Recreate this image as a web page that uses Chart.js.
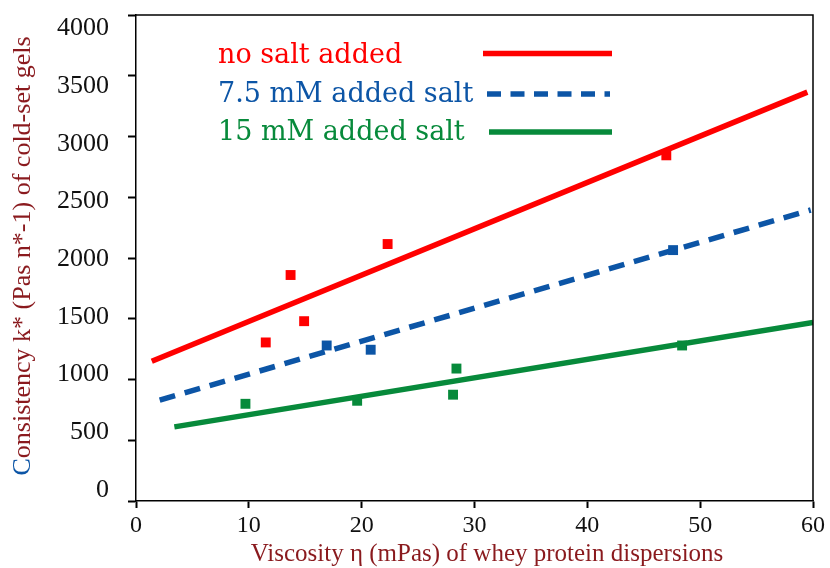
<!DOCTYPE html>
<html>
<head>
<meta charset="utf-8">
<script src="https://cdn.jsdelivr.net/npm/chart.js@4/dist/chart.umd.min.js"></script>
<style>
  html, body { margin: 0; padding: 0; background: #ffffff; }
  #wrap { width: 830px; height: 568px; }
</style>
</head>
<body>
<div id="wrap"><canvas id="c" width="830" height="568"></canvas></div>
<script>
// Series names and colours
const seriesNames = ['no salt added', '7.5 mM added salt', '15 mM added salt'];
const seriesColors = ['#ff0000', '#0c55a6', '#078a3b'];

// Measured gels: viscosity (mPas) vs consistency k*
const noSaltX = [11.5, 13.7, 14.9, 22.3, 47.0];
const noSaltY = [1305, 1860, 1480, 2115, 2845];
const salt75X = [16.9, 20.8, 47.6];
const salt75Y = [1280, 1245, 2065];
const salt15X = [9.7, 19.6, 28.1, 28.4, 48.4];
const salt15Y = [800, 825, 875, 1090, 1280];

// Trend lines (end points)
const noSaltFitX = [1.4, 59.5];
const noSaltFitY = [1150, 3365];
const salt75FitX = [2.1, 59.8];
const salt75FitY = [830, 2395];
const salt15FitX = [3.4, 60.0];
const salt15FitY = [610, 1470];

// Axis ticks
const xTicks = [0, 10, 20, 30, 40, 50, 60];
const yTicks = [0, 500, 1000, 1500, 2000, 2500, 3000, 3500, 4000];

const xTitle = 'Viscosity \u03b7 (mPas) of whey protein dispersions';
const yTitle = 'Consistency k* (Pas n*-1) of cold-set gels';
const titleColor = '#8a1a1e';
const titleAccent = '#0c55a6';

const pts = (xs, ys) => xs.map((x, i) => ({ x: x, y: ys[i] }));

const measured = [pts(noSaltX, noSaltY), pts(salt75X, salt75Y), pts(salt15X, salt15Y)];
const trends = [pts(noSaltFitX, noSaltFitY), pts(salt75FitX, salt75FitY), pts(salt15FitX, salt15FitY)];
const dashes = [[], [16, 10], []];

const datasets = [];
trends.forEach((d, i) => datasets.push({
  type: 'line', label: seriesNames[i], data: d, xAxisID: 'x', yAxisID: 'y',
  borderColor: seriesColors[i], borderWidth: 5.5, borderDash: dashes[i],
  borderCapStyle: 'butt', pointRadius: 0, fill: false, tension: 0
}));
measured.forEach((d, i) => datasets.push({
  type: 'scatter', label: seriesNames[i] + ' (data)', data: d, xAxisID: 'x', yAxisID: 'y',
  backgroundColor: seriesColors[i], borderColor: seriesColors[i], borderWidth: 0,
  pointStyle: 'rect', pointRadius: 7, pointHoverRadius: 7
}));

// Legend: text on the left, line sample on the right
const legendPlugin = {
  id: 'sideLegend',
  afterDraw(chart) {
    const ctx = chart.ctx;
    const rows = [
      { textY: 63, lineY: 53.5, x0: 483, x1: 612, dash: [] },
      { textY: 102, lineY: 94, x0: 487, x1: 610, dash: [14, 9.5] },
      { textY: 140, lineY: 132, x0: 489, x1: 612, dash: [] }
    ];
    ctx.save();
    ctx.font = '27px "DejaVu Serif"';
    ctx.textAlign = 'left';
    ctx.textBaseline = 'alphabetic';
    rows.forEach((r, i) => {
      ctx.fillStyle = seriesColors[i];
      ctx.fillText(seriesNames[i], 218, r.textY);
      ctx.strokeStyle = seriesColors[i];
      ctx.lineWidth = 5.5;
      ctx.lineCap = 'butt';
      ctx.setLineDash(r.dash);
      ctx.beginPath();
      ctx.moveTo(r.x0, r.lineY);
      ctx.lineTo(r.x1, r.lineY);
      ctx.stroke();
    });
    ctx.restore();
  }
};

// Frame on top/right plus axis titles
const framePlugin = {
  id: 'frameAndTitles',
  afterDraw(chart) {
    const ctx = chart.ctx;
    const a = chart.chartArea;
    ctx.save();
    ctx.strokeStyle = '#000';
    ctx.lineWidth = 1.5;
    ctx.beginPath();
    ctx.moveTo(a.left, a.top);
    ctx.lineTo(a.right, a.top);
    ctx.lineTo(a.right, a.bottom);
    ctx.stroke();

    // x title
    ctx.font = '25px "Liberation Serif"';
    ctx.fillStyle = titleColor;
    ctx.textAlign = 'center';
    ctx.textBaseline = 'alphabetic';
    ctx.fillText(xTitle, 487, 561);

    // y title, first letter in accent colour
    ctx.font = '26px "Liberation Serif"';
    ctx.translate(30, 256);
    ctx.rotate(-Math.PI / 2);
    const total = ctx.measureText(yTitle).width;
    const first = yTitle.charAt(0);
    const rest = yTitle.slice(1);
    const fw = ctx.measureText(first).width;
    ctx.textAlign = 'left';
    ctx.fillStyle = titleAccent;
    ctx.fillText(first, -total / 2, 0);
    ctx.fillStyle = titleColor;
    ctx.fillText(rest, -total / 2 + fw, 0);
    ctx.restore();
  }
};

new Chart(document.getElementById('c'), {
  data: { datasets: datasets },
  options: {
    responsive: false,
    animation: false,
    devicePixelRatio: 1,
    layout: { padding: { top: 15, right: 17, left: 0, bottom: 0 } },
    plugins: { legend: { display: false }, tooltip: { enabled: false } },
    scales: {
      x: {
        type: 'linear', position: 'bottom', min: 0, max: 60,
        afterBuildTicks(s) { s.ticks = xTicks.map(v => ({ value: v })); },
        afterFit(s) { s.height = 67; s.paddingLeft = 0; s.paddingRight = 0; },
        ticks: { color: '#111', font: { family: 'Liberation Serif', size: 24 }, padding: 3, maxRotation: 0,
                 callback: v => String(v) },
        grid: { drawOnChartArea: false, drawTicks: true, tickLength: 7, tickWidth: 2, tickColor: '#000' },
        border: { display: true, color: '#000', width: 1.5 }
      },
      // value axis: axis line and tick marks
      y: {
        type: 'linear', position: 'left', weight: 0, min: 0, max: 4000,
        afterBuildTicks(s) { s.ticks = yTicks.map(v => ({ value: v })); },
        afterFit(s) { s.width = 9; s.paddingTop = 0; s.paddingBottom = 0; },
        ticks: { display: false },
        grid: { drawOnChartArea: false, drawTicks: true, tickLength: 8, tickWidth: 2, tickColor: '#000' },
        border: { display: true, color: '#000', width: 1.5 }
      },
      // label axis: tick numbers set slightly tighter than the marks
      yLabels: {
        type: 'linear', position: 'left', weight: 1, min: -95, max: 4117,
        afterBuildTicks(s) { s.ticks = yTicks.map(v => ({ value: v })); },
        afterFit(s) { s.width = 127; s.paddingTop = 0; s.paddingBottom = 0; },
        ticks: { color: '#111', font: { family: 'Liberation Serif', size: 26 }, padding: 10,
                 callback: v => String(v) },
        grid: { display: false },
        border: { display: false }
      }
    }
  },
  plugins: [legendPlugin, framePlugin]
});
</script>
</body>
</html>
